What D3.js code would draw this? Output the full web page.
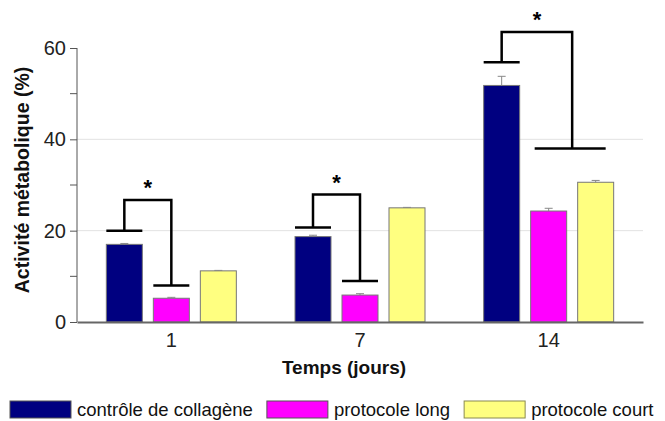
<!DOCTYPE html>
<html><head><meta charset="utf-8">
<script src="https://cdn.jsdelivr.net/npm/d3@7"></script>
<style>body{margin:0;background:#fff}svg{display:block;font-family:Arial,"Liberation Sans",sans-serif}</style>
</head><body><svg id="c" width="665" height="421"></svg>
<script>
const days = ["1", "7", "14"];
const seriesNames = ["contrôle de collagène", "protocole long", "protocole court"];
const controle = [17.0, 18.7, 51.8];
const protLong = [5.2, 5.9, 24.3];
const protCourt = [11.2, 25.0, 30.6];
const errControle = [0.2, 0.3, 2.0];
const errLong = [0.2, 0.3, 0.6];
const errCourt = [0.1, 0.1, 0.4];
const colors = ["#000080", "#ff00ff", "#ffff80"];
const yTicks = [0, 20, 40, 60];
const yMinorTicks = [10, 30, 50];
const gridValues = [20, 40];
// significance brackets (value units)
const sigGroups = ["1", "7", "14"];
const sigLeftLevel = [20, 20.7, 56.9];
const sigTopLevel = [26.7, 27.9, 63.5];
const sigRightLevel = [8, 9, 38];
const sigRightSeries = [[1], [1], [1, 2]];

const valuesBySeries = [controle, protLong, protCourt];
const errBySeries = [errControle, errLong, errCourt];
const svg = d3.select("#c");
const x0 = d3.scaleBand().domain(days).range([77, 643]).padding(0);
const x1 = d3.scaleBand().domain(d3.range(3)).range([-65, 65]).paddingInner(0.234);
const y = d3.scaleLinear().domain([0, 60]).range([322, 48]);
const bw = x1.bandwidth();

// grid
svg.append("g").selectAll("line").data(gridValues).join("line")
  .attr("x1", 77).attr("x2", 643).attr("y1", d => y(d)).attr("y2", d => y(d))
  .attr("stroke", "#e2e2e2").attr("stroke-width", 1);

// bars
const rows = [];
days.forEach((d, i) => valuesBySeries.forEach((vals, s) => rows.push({day: d, s, v: vals[i], e: errBySeries[s][i]})));
const cx = r => x0(r.day) + x0.bandwidth() / 2 + x1(r.s);
svg.append("g").selectAll("rect").data(rows).join("rect")
  .attr("x", r => cx(r)).attr("width", bw)
  .attr("y", r => y(r.v)).attr("height", r => y(0) - y(r.v))
  .attr("fill", r => colors[r.s]).attr("stroke", "#777").attr("stroke-width", 1);

// error bars
const eg = svg.append("g").attr("stroke", "#888").attr("stroke-width", 1);
rows.forEach(r => {
  const m = cx(r) + bw / 2;
  eg.append("line").attr("x1", m).attr("x2", m).attr("y1", y(r.v)).attr("y2", y(r.v + r.e));
  eg.append("line").attr("x1", m - 4).attr("x2", m + 4).attr("y1", y(r.v + r.e)).attr("y2", y(r.v + r.e));
});

// y axis
const yAxis = d3.axisLeft(y).tickValues(yTicks).tickSize(7).tickPadding(4).tickFormat(d3.format("d"));
const ya = svg.append("g").attr("transform", "translate(77,0)").call(yAxis);
ya.select(".domain").attr("stroke", "#555").attr("d", `M0,${y(60)}V${y(0)}`);
ya.selectAll(".tick line").attr("stroke", "#555");
ya.selectAll("text").attr("font-size", 20).attr("fill", "#222").attr("font-family", "Arial, 'Liberation Sans', sans-serif");
svg.append("g").selectAll("line").data(yMinorTicks).join("line")
  .attr("x1", 70).attr("x2", 77).attr("y1", d => y(d)).attr("y2", d => y(d)).attr("stroke", "#555");

// x axis
const xAxis = d3.axisBottom(x0).tickSize(0).tickPadding(11);
const xa = svg.append("g").attr("transform", `translate(0,${y(0)})`).call(xAxis);
xa.select(".domain").attr("stroke", "#666").attr("stroke-width", 2.2);
xa.selectAll("text").attr("font-size", 20).attr("fill", "#222").attr("font-family", "Arial, 'Liberation Sans', sans-serif");

// axis titles
svg.append("text").attr("x", 344).attr("y", 374).attr("text-anchor", "middle")
  .attr("font-size", 19).attr("font-weight", "bold").attr("fill", "#111").text("Temps (jours)");
svg.append("text").attr("transform", "translate(29,180) rotate(-90)").attr("text-anchor", "middle")
  .attr("font-size", 19.5).attr("font-weight", "bold").attr("fill", "#111").text("Activité métabolique (%)");

// significance brackets
const bg = svg.append("g").attr("stroke", "#000").attr("stroke-width", 2.5).attr("fill", "none");
sigGroups.forEach((g, i) => {
  const gc = x0(g) + x0.bandwidth() / 2;
  const lx = gc + x1(0);
  const lStem = lx + bw / 2;
  const rs = sigRightSeries[i];
  const rStart = gc + x1(rs[0]);
  const rEnd = gc + x1(rs[rs.length - 1]) + bw;
  const rStem = rs.length === 1 ? rStart + bw / 2 : (rStart + rEnd) / 2;
  const inset = rs.length === 1 ? 0 : 4;
  bg.append("line").attr("x1", lx).attr("x2", lx + bw).attr("y1", y(sigLeftLevel[i])).attr("y2", y(sigLeftLevel[i]));
  bg.append("path").attr("d", `M${lStem},${y(sigLeftLevel[i])}V${y(sigTopLevel[i])}H${rStem}V${y(sigRightLevel[i])}`);
  bg.append("line").attr("x1", rStart + inset).attr("x2", rEnd - inset * 2).attr("y1", y(sigRightLevel[i])).attr("y2", y(sigRightLevel[i]));
  svg.append("text").attr("x", (lStem + rStem) / 2).attr("y", y(sigTopLevel[i]) - 5)
    .attr("text-anchor", "middle").attr("font-size", 22).attr("font-weight", "bold").attr("fill", "#000").text("*");
});

// legend
const lg = svg.append("g");
let lx = 10;
seriesNames.forEach((name, s) => {
  lg.append("rect").attr("x", lx).attr("y", 401).attr("width", 61).attr("height", 17)
    .attr("fill", colors[s]).attr("stroke", s === 2 ? "#8a8a50" : "#555").attr("stroke-width", 1);
  const t = lg.append("text").attr("x", lx + 67).attr("y", 416).attr("font-size", 18.5).attr("fill", "#111").text(name);
  lx = lx + 67 + t.node().getComputedTextLength() + 14;
});
</script></body></html>
